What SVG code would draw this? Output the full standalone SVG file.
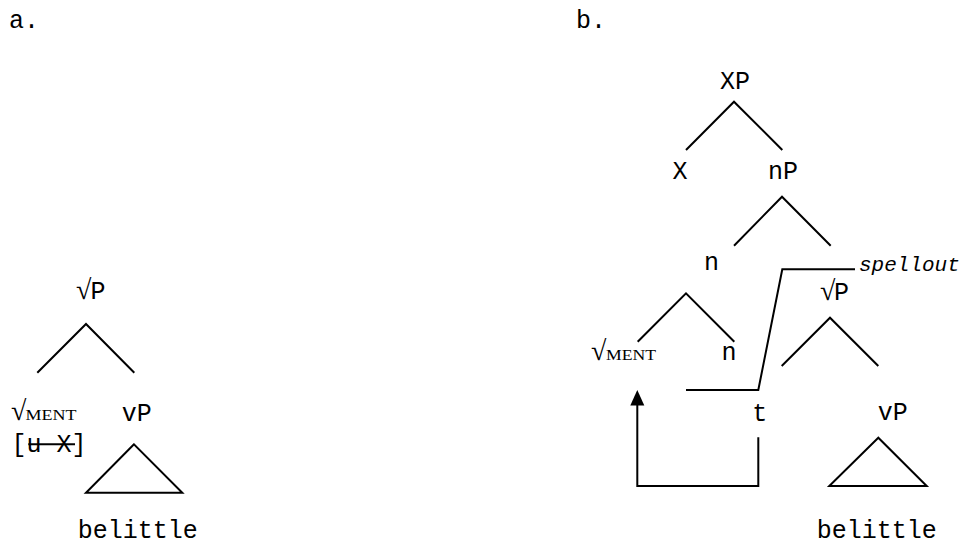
<svg xmlns="http://www.w3.org/2000/svg" width="966" height="545" viewBox="0 0 966 545">
<style>
.m{font-family:"Liberation Mono","Courier New",monospace;font-size:25px;fill:#000}
.s{font-family:"Liberation Serif","Times New Roman",serif;fill:#000}
.it{font-family:"Liberation Mono","Courier New",monospace;font-size:21px;font-style:italic;fill:#000}
.c{text-anchor:middle}
.ln{stroke:#000;stroke-width:2;fill:none;stroke-linecap:butt;stroke-linejoin:miter}
</style>
<rect width="966" height="545" fill="#fff"/>
<g id="panel-labels">
<text class="m" x="9" y="28">a.</text>
<text class="m" x="576" y="28">b.</text>
</g>
<g id="connectors">
<polyline class="ln" points="37.3,372.7 86,324 134.3,372.7"/>
<polygon class="ln" points="134,444.3 86,492.7 182.3,492.7"/>
<line class="ln" x1="28.3" y1="444.3" x2="75" y2="444.3"/>
<polyline class="ln" points="686,150 734,101.7 782.3,150"/>
<polyline class="ln" points="734,245.7 782,196.7 830.7,245.7"/>
<polyline class="ln" points="637.7,341.7 686,293.3 734.3,341.7"/>
<polyline class="ln" points="781.7,366 830,317.7 878.3,366"/>
<polygon class="ln" points="878.3,437.7 829.3,486 926.7,486"/>
<polyline class="ln" points="686,390 758.3,390 782.3,269.3 855,269.3"/>
<polyline class="ln" points="758.3,437.3 758.3,486 637.3,486 637.3,403"/>
<polygon points="637.3,390 630.3,405.5 644.3,405.5" fill="#000"/>
</g>
<g id="a-rootP"><text y="299"><tspan class="s" font-size="28" x="76">√</tspan><tspan class="m" x="90.5">P</tspan></text></g>
<g id="a-ment"><text y="420"><tspan class="s" font-size="28" x="11">√</tspan><tspan class="s" font-size="15" x="25.5" textLength="51" lengthAdjust="spacingAndGlyphs">MENT</tspan></text></g>
<g id="a-feature"><text class="m c" x="49" y="451.5">[u X]</text></g>
<g id="a-vP"><text class="m c" x="136.7" y="420.5">vP</text></g>
<g id="a-belittle"><text class="m c" x="137.8" y="538">belittle</text></g>
<g id="b-XP"><text class="m c" x="735" y="89">XP</text></g>
<g id="b-X"><text class="m c" x="680" y="179">X</text></g>
<g id="b-nP"><text class="m c" x="783" y="179">nP</text></g>
<g id="b-n-upper"><text class="m c" x="711.5" y="270">n</text></g>
<g id="b-spellout"><text class="it" x="859" y="270.5">spellout</text></g>
<g id="b-rootP"><text y="300"><tspan class="s" font-size="28" x="820">√</tspan><tspan class="m" x="834">P</tspan></text></g>
<g id="b-ment"><text y="360"><tspan class="s" font-size="28" x="591">√</tspan><tspan class="s" font-size="15" x="606" textLength="50" lengthAdjust="spacingAndGlyphs">MENT</tspan></text></g>
<g id="b-n-lower"><text class="m c" x="729" y="360">n</text></g>
<g id="b-t"><text class="m c" x="759.7" y="420.7">t</text></g>
<g id="b-vP"><text class="m c" x="892.7" y="420">vP</text></g>
<g id="b-belittle"><text class="m c" x="876.7" y="538">belittle</text></g>
</svg>
